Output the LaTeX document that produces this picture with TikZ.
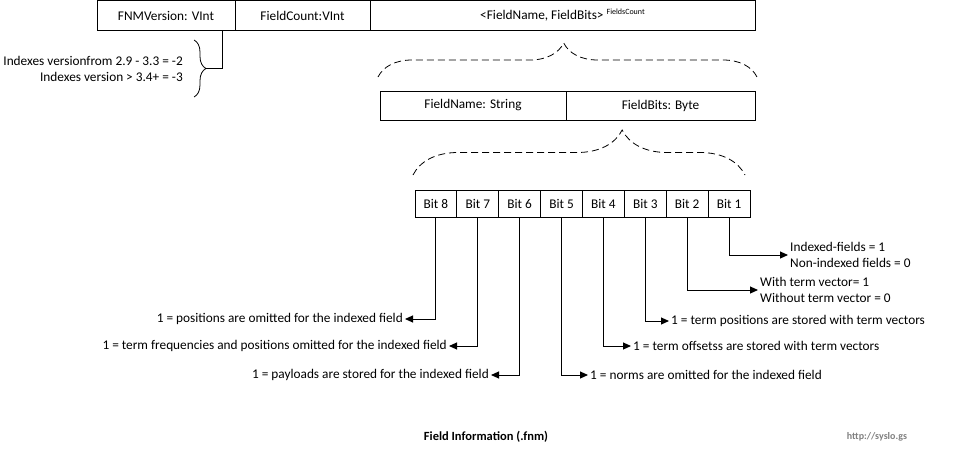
\documentclass[tikz,border=0pt]{standalone}
\usepackage{fontspec}
\setmainfont{Carlito}
\usepackage{tikz}
\usetikzlibrary{positioning, arrows.meta, decorations.pathreplacing}
\definecolor{GrisWeb}{RGB}{128,128,128}

\begin{document}
\begin{tikzpicture}[x=1pt, y=-1pt, font=\fontsize{13.3}{16.5}\selectfont, >={Triangle[length=8pt, width=7pt]},
  campo/.style={rectangle, draw, line width=1pt, inner sep=0pt, outer sep=0pt, minimum height=30pt},
  bitcel/.style={rectangle, draw, line width=1pt, inner sep=0pt, outer sep=0pt, minimum width=41.875pt, minimum height=27pt},
  llave/.style={decorate, decoration={brace, amplitude=#1}, line width=0.8pt},
  nota/.style={inner sep=2pt, align=left},
  conector/.style={->, line width=1pt}]
  \useasboundingbox (0,0) rectangle (953,453);

  % cabecera del archivo
  \node[campo, minimum width=138pt, anchor=north west] (fnm) at (97,0.5) {FNMVersion: VInt};
  \node[campo, minimum width=135pt, right=0pt of fnm] (cnt) {FieldCount:VInt};
  \node[campo, minimum width=385pt, right=0pt of cnt] (pares) {<FieldName, FieldBits>~\raisebox{5pt}{\fontsize{8}{8}\selectfont FieldsCount}};

  % versiones
  \draw[llave=12pt] (194,40) -- (194,97);
  \coordinate (punta) at (206,68.5);
  \coordinate (fnmbase) at ([xshift=-13pt]fnm.south east);
  \draw[line width=1pt] (punta) -| (fnmbase);
  \node[align=right, anchor=east, inner sep=2pt] (versiones) at (185,69) {Indexes versionfrom 2.9 - 3.3 = -2\\Indexes version > 3.4+ = -3};

  % par nombre / bits
  \node[campo, minimum width=186pt, minimum height=29pt, anchor=north west] (fname) at (380,91) {FieldName: String};
  \node[campo, minimum width=189pt, minimum height=29pt, right=0pt of fname] (fbits) {FieldBits: Byte};
  \draw[llave=34pt, decoration={aspect=0.49}, dash pattern=on 7pt off 4pt] ([xshift=-2pt, yshift=14pt]fname.north west) -- ([xshift=2pt, yshift=14pt]fbits.north east);

  % bits del campo
  \node[bitcel, anchor=north west] (b8) at (415,190) {Bit 8};
  \node[bitcel, right=0pt of b8] (b7) {Bit 7};
  \node[bitcel, right=0pt of b7] (b6) {Bit 6};
  \node[bitcel, right=0pt of b6] (b5) {Bit 5};
  \node[bitcel, right=0pt of b5] (b4) {Bit 4};
  \node[bitcel, right=0pt of b4] (b3) {Bit 3};
  \node[bitcel, right=0pt of b3] (b2) {Bit 2};
  \node[bitcel, right=0pt of b2] (b1) {Bit 1};
  \draw[llave=45pt, decoration={aspect=0.63}, dash pattern=on 7pt off 4pt] ([xshift=-2pt, yshift=15pt]b8.north west) -- ([xshift=-5pt, yshift=15pt]b1.north east);

  % significado de cada bit
  \node[nota, anchor=east] (d8) at (405,319) {1 = positions are omitted for the indexed field};
  \node[nota, anchor=east] (d7) at (449,346) {1 = term frequencies and positions omitted for the indexed field};
  \node[nota, anchor=east] (d6) at (491,375) {1 = payloads are stored for the indexed field};
  \node[nota, anchor=west] (d5) at (588,375) {1 = norms are omitted for the indexed field};
  \node[nota, anchor=west] (d4) at (631,346) {1 = term offsetss are stored with term vectors};
  \node[nota, anchor=west] (d3) at (669,321) {1 = term positions are stored with term vectors};
  \node[nota, anchor=west] (d2) at (758,290) {With term vector= 1\\Without term vector = 0};
  \node[nota, anchor=west] (d1) at (788,255) {Indexed-fields = 1\\Non-indexed fields = 0};
  \draw[conector] (b8.south) |- (d8);
  \draw[conector] (b7.south) |- (d7);
  \draw[conector] (b6.south) |- (d6);
  \draw[conector] (b5.south) |- (d5);
  \draw[conector] (b4.south) |- (d4);
  \draw[conector] (b3.south) |- (d3);
  \draw[conector] (b2.south) |- (d2);
  \draw[conector] (b1.south) |- (d1);

  % pie
  \node[font=\bfseries\fontsize{12.5}{14}\selectfont] (titulo) at (486,437) {Field Information (.fnm)};
  \node[font=\bfseries\fontsize{10}{12}\selectfont, text=GrisWeb] (web) at (877,437) {http://syslo.gs};
\end{tikzpicture}
\end{document}
